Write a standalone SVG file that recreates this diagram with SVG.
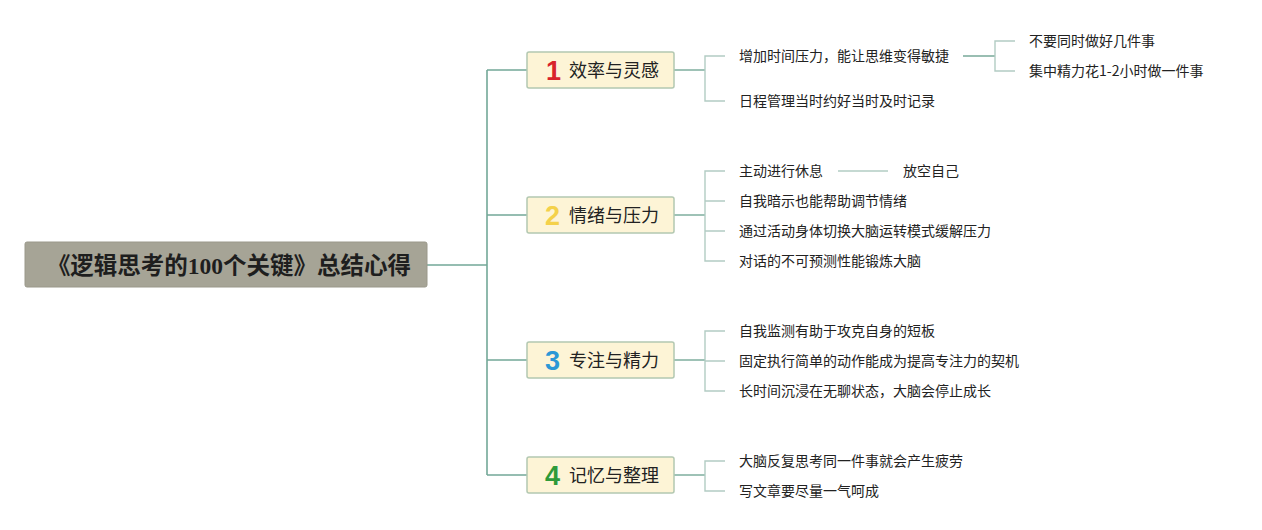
<svg xmlns="http://www.w3.org/2000/svg" width="1262" height="530" viewBox="0 0 1262 530">
<style>
.bg{fill:#ffffff}
.root rect{fill:#a6a496;stroke:#9a988a;stroke-width:1}
.root text{font-family:"Liberation Serif","Noto Sans CJK SC",serif;font-weight:bold;font-size:23.5px;fill:#1e1e1e;text-anchor:middle}
.br rect{fill:#fdf4d6;stroke:#b3c8b1;stroke-width:1.5}
.br .lab{font-family:"Noto Sans CJK SC","Noto Sans",sans-serif;font-size:18px;fill:#222}
.br .num{font-family:"Liberation Sans","DejaVu Sans",sans-serif;font-weight:bold;font-size:27px}
.leaf{font-family:"Noto Sans CJK SC","Liberation Sans",sans-serif;font-size:14px;fill:#222}
.main{fill:none;stroke:#73a898;stroke-width:1.6}
.sub{fill:none;stroke:#b2ccc3;stroke-width:1.4}
.sub2{fill:none;stroke:#7fae9f;stroke-width:1.6}
</style>
<rect class="bg" x="0" y="0" width="1262" height="530"/>
<g id="connectors">
<path class="main" d="M427,265 H487 M487,70 V475 M487,70 H527 M487,215 H527 M487,360 H527 M487,475 H527"/>
<path class="sub2" d="M674,70 H705 M674,215 H705 M674,360 H705 M674,475 H705"/>
<path class="sub" d="M725,56 H705 V101 H725"/>
<path class="sub2" d="M963,56 H995"/>
<path class="sub" d="M1015,41 H995 V71 H1015"/>
<path class="sub" d="M725,171 H705 V261 H725 M705,201 H725 M705,231 H725"/>
<path class="sub" d="M838,171 H888"/>
<path class="sub" d="M725,331 H705 V391 H725 M705,361 H725"/>
<path class="sub" d="M725,461 H705 V491 H725"/>
</g>
<g id="root" class="root">
<rect x="25" y="242" width="402" height="45" rx="2"/>
<text x="229" y="274">《逻辑思考的100个关键》总结心得</text>
</g>
<g id="b1" class="br">
<rect x="527" y="52" width="147" height="36" rx="2"/>
<text class="num" x="546" y="80" fill="#d8232a">1</text>
<text class="lab" x="569" y="77">效率与灵感</text>
</g>
<g id="b2" class="br">
<rect x="527" y="197" width="147" height="36" rx="2"/>
<text class="num" x="545" y="225" fill="#f4d14a">2</text>
<text class="lab" x="569" y="222">情绪与压力</text>
</g>
<g id="b3" class="br">
<rect x="527" y="342" width="147" height="36" rx="2"/>
<text class="num" x="545" y="370" fill="#2b98d6">3</text>
<text class="lab" x="569" y="367">专注与精力</text>
</g>
<g id="b4" class="br">
<rect x="527" y="457" width="147" height="36" rx="2"/>
<text class="num" x="545" y="485" fill="#2e9a3a">4</text>
<text class="lab" x="569" y="482">记忆与整理</text>
</g>
<g id="l1a"><text class="leaf" x="739" y="61">增加时间压力，能让思维变得敏捷</text></g>
<g id="l1b"><text class="leaf" x="739" y="106">日程管理当时约好当时及时记录</text></g>
<g id="l1a1"><text class="leaf" x="1029" y="46">不要同时做好几件事</text></g>
<g id="l1a2"><text class="leaf" x="1029" y="76">集中精力花1-2小时做一件事</text></g>
<g id="l2a"><text class="leaf" x="739" y="176">主动进行休息</text></g>
<g id="l2a1"><text class="leaf" x="903" y="176">放空自己</text></g>
<g id="l2b"><text class="leaf" x="739" y="206">自我暗示也能帮助调节情绪</text></g>
<g id="l2c"><text class="leaf" x="739" y="236">通过活动身体切换大脑运转模式缓解压力</text></g>
<g id="l2d"><text class="leaf" x="739" y="266">对话的不可预测性能锻炼大脑</text></g>
<g id="l3a"><text class="leaf" x="739" y="336">自我监测有助于攻克自身的短板</text></g>
<g id="l3b"><text class="leaf" x="739" y="366">固定执行简单的动作能成为提高专注力的契机</text></g>
<g id="l3c"><text class="leaf" x="739" y="396">长时间沉浸在无聊状态，大脑会停止成长</text></g>
<g id="l4a"><text class="leaf" x="739" y="466">大脑反复思考同一件事就会产生疲劳</text></g>
<g id="l4b"><text class="leaf" x="739" y="496">写文章要尽量一气呵成</text></g>
</svg>
